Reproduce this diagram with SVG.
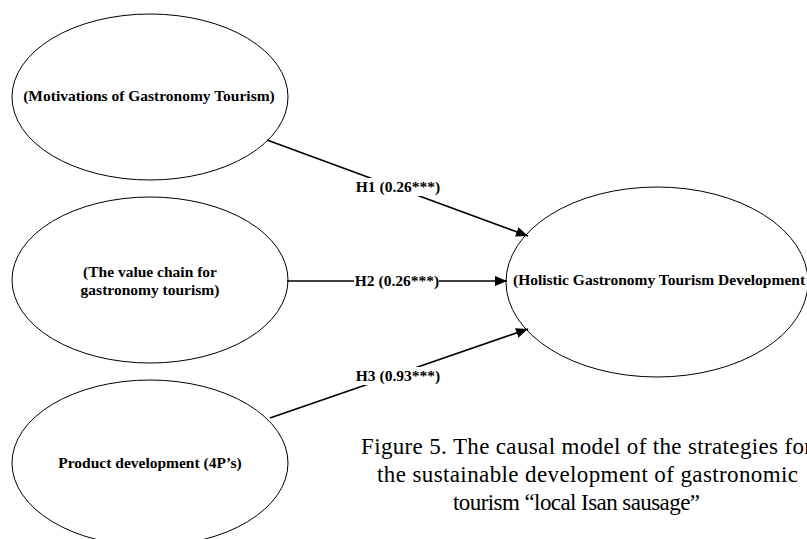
<svg xmlns="http://www.w3.org/2000/svg" width="807" height="539" viewBox="0 0 807 539">
<style>
.node ellipse{fill:#fff;stroke:#000;stroke-width:1}
.nt{font-family:"Liberation Serif","Times New Roman",serif;font-weight:bold;font-size:15.5px;fill:#000;text-anchor:middle}
.edge line{stroke:#000;stroke-width:1.6}
.lbl{font-family:"Liberation Serif","Times New Roman",serif;font-weight:bold;font-size:15.5px;fill:#000;text-anchor:middle}
.cap{font-family:"Liberation Serif","Times New Roman",serif;font-size:23px;fill:#000}
</style>
<defs>
<marker id="arr" viewBox="0 0 12 10" refX="12" refY="5" markerWidth="12" markerHeight="10" markerUnits="userSpaceOnUse" orient="auto">
<path d="M0,0 L12,5 L0,10 Z" fill="#000"/>
</marker>
</defs>
<rect width="807" height="539" fill="#fff"/>
<g id="n1" class="node">
<ellipse cx="150" cy="97" rx="138" ry="83"/>
<text class="nt" x="149" y="101">(Motivations of Gastronomy Tourism)</text>
</g>
<g id="n2" class="node">
<ellipse cx="150" cy="280" rx="138" ry="83"/>
<text class="nt" x="150" y="277">(The value chain for</text>
<text class="nt" x="150" y="295">gastronomy tourism)</text>
</g>
<g id="n3" class="node">
<ellipse cx="150" cy="463" rx="138" ry="83"/>
<text class="nt" x="150" y="468">Product development (4P’s)</text>
</g>
<g id="n4" class="node">
<ellipse cx="657" cy="282" rx="151" ry="95"/>
<text class="nt" x="513" y="285" style="text-anchor:start">(Holistic Gastronomy Tourism Development</text>
</g>
<g id="edges" class="edge">
<line x1="267" y1="140" x2="528" y2="236" marker-end="url(#arr)"/>
<line x1="287" y1="281" x2="507" y2="281" marker-end="url(#arr)"/>
<line x1="270" y1="418" x2="528" y2="329" marker-end="url(#arr)"/>
<rect x="355" y="178" width="87" height="18" fill="#fff"/>
<text class="lbl" x="398" y="192">H1 (0.26***)</text>
<rect x="354" y="272" width="85" height="18" fill="#fff"/>
<text class="lbl" x="397" y="286">H2 (0.26***)</text>
<rect x="355" y="367" width="87" height="18" fill="#fff"/>
<text class="lbl" x="398" y="381">H3 (0.93***)</text>
</g>
<g id="caption">
<text class="cap" x="361" y="454" textLength="451" lengthAdjust="spacing">Figure 5. The causal model of the strategies for</text>
<text class="cap" x="377" y="482" textLength="421" lengthAdjust="spacing">the sustainable development of gastronomic</text>
<text class="cap" x="453" y="510" textLength="247" lengthAdjust="spacing">tourism “local Isan sausage”</text>
</g>
</svg>
